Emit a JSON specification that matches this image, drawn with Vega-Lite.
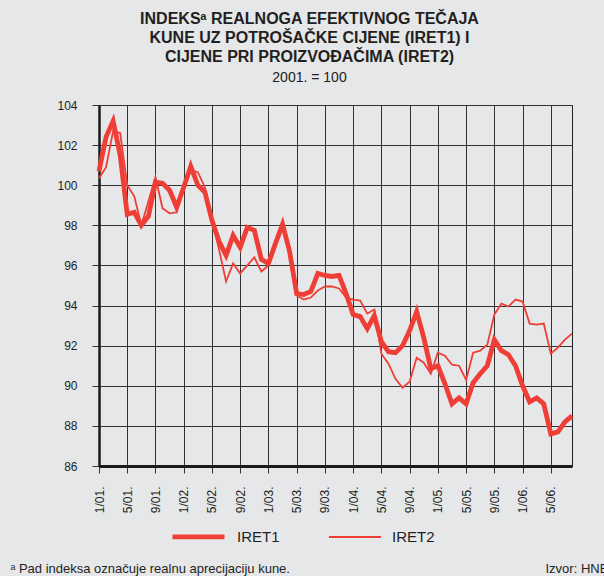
{
  "$schema": "https://vega.github.io/schema/vega-lite/v6.json",
  "autosize": {"type": "none"},
  "padding": {"left": 99, "top": 105, "right": 32, "bottom": 110},
  "width": 473,
  "height": 361,
  "background": "#e6e7e9",
  "title": {
    "text": ["INDEKSᵃ  REALNOGA EFEKTIVNOG TEČAJA", "KUNE UZ POTROŠAČKE CIJENE (IRET1) I", "CIJENE PRI PROIZVOĐAČIMA (IRET2)"],
    "subtitle": "2001. = 100",
    "anchor": "middle",
    "frame": "group",
    "dx": -26,
    "offset": 14,
    "font": "Liberation Sans",
    "fontSize": 16,
    "fontWeight": "bold",
    "lineHeight": 19,
    "color": "#231f20",
    "subtitleFont": "Liberation Sans",
    "subtitleFontSize": 14,
    "subtitleColor": "#231f20",
    "subtitlePadding": 6
  },
  "config": {
    "view": {"stroke": "#222222", "strokeWidth": 1},
    "axis": {
      "labelFont": "Liberation Sans",
      "labelColor": "#231f20",
      "labelFontSize": 12,
      "gridColor": "#333333",
      "gridOpacity": 1,
      "gridWidth": 1,
      "tickColor": "#333333",
      "tickSize": 7,
      "domainColor": "#1a1a1a"
    }
  },
  "data": {
    "values": [
      {"month": "1/01", "IRET1": 100.7, "IRET2": 100.35},
      {"month": "2/01", "IRET1": 102.4, "IRET2": 100.9},
      {"month": "3/01", "IRET1": 103.2, "IRET2": 102.7},
      {"month": "4/01", "IRET1": 101.5, "IRET2": 102.6},
      {"month": "5/01", "IRET1": 98.55, "IRET2": 100.0},
      {"month": "6/01", "IRET1": 98.65, "IRET2": 99.45},
      {"month": "7/01", "IRET1": 98.0, "IRET2": 98.0},
      {"month": "8/01", "IRET1": 98.45, "IRET2": 99.2},
      {"month": "9/01", "IRET1": 100.15, "IRET2": 100.4},
      {"month": "10/01", "IRET1": 100.1, "IRET2": 98.85},
      {"month": "11/01", "IRET1": 99.75, "IRET2": 98.6},
      {"month": "12/01", "IRET1": 98.9, "IRET2": 98.65},
      {"month": "1/02", "IRET1": 99.9, "IRET2": 99.9},
      {"month": "2/02", "IRET1": 100.95, "IRET2": 100.75},
      {"month": "3/02", "IRET1": 100.0, "IRET2": 100.65},
      {"month": "4/02", "IRET1": 99.65, "IRET2": 99.9},
      {"month": "5/02", "IRET1": 98.25, "IRET2": 98.3},
      {"month": "6/02", "IRET1": 97.2, "IRET2": 96.8},
      {"month": "7/02", "IRET1": 96.5, "IRET2": 95.2},
      {"month": "8/02", "IRET1": 97.5, "IRET2": 96.1},
      {"month": "9/02", "IRET1": 96.9, "IRET2": 95.6},
      {"month": "10/02", "IRET1": 97.9, "IRET2": 96.0},
      {"month": "11/02", "IRET1": 97.75, "IRET2": 96.4},
      {"month": "12/02", "IRET1": 96.3, "IRET2": 95.7},
      {"month": "1/03", "IRET1": 96.1, "IRET2": 96.0},
      {"month": "2/03", "IRET1": 97.1, "IRET2": 97.0},
      {"month": "3/03", "IRET1": 98.05, "IRET2": 98.0},
      {"month": "4/03", "IRET1": 96.7, "IRET2": 96.8},
      {"month": "5/03", "IRET1": 94.6, "IRET2": 94.5},
      {"month": "6/03", "IRET1": 94.55, "IRET2": 94.3},
      {"month": "7/03", "IRET1": 94.7, "IRET2": 94.4},
      {"month": "8/03", "IRET1": 95.6, "IRET2": 94.75},
      {"month": "9/03", "IRET1": 95.5, "IRET2": 94.95},
      {"month": "10/03", "IRET1": 95.45, "IRET2": 94.95},
      {"month": "11/03", "IRET1": 95.5, "IRET2": 94.85},
      {"month": "12/03", "IRET1": 94.6, "IRET2": 94.4},
      {"month": "1/04", "IRET1": 93.55, "IRET2": 94.3},
      {"month": "2/04", "IRET1": 93.45, "IRET2": 94.25},
      {"month": "3/04", "IRET1": 92.85, "IRET2": 93.6},
      {"month": "4/04", "IRET1": 93.5, "IRET2": 93.8},
      {"month": "5/04", "IRET1": 92.2, "IRET2": 91.6},
      {"month": "6/04", "IRET1": 91.7, "IRET2": 91.1},
      {"month": "7/04", "IRET1": 91.65, "IRET2": 90.35},
      {"month": "8/04", "IRET1": 92.0, "IRET2": 89.9},
      {"month": "9/04", "IRET1": 92.75, "IRET2": 90.2},
      {"month": "10/04", "IRET1": 93.7, "IRET2": 91.4},
      {"month": "11/04", "IRET1": 92.4, "IRET2": 91.15},
      {"month": "12/04", "IRET1": 90.85, "IRET2": 90.6},
      {"month": "1/05", "IRET1": 91.0, "IRET2": 91.65},
      {"month": "2/05", "IRET1": 90.1, "IRET2": 91.5},
      {"month": "3/05", "IRET1": 89.1, "IRET2": 91.05},
      {"month": "4/05", "IRET1": 89.4, "IRET2": 91.0},
      {"month": "5/05", "IRET1": 89.1, "IRET2": 90.3},
      {"month": "6/05", "IRET1": 90.15, "IRET2": 91.65},
      {"month": "7/05", "IRET1": 90.6, "IRET2": 91.75},
      {"month": "8/05", "IRET1": 91.0, "IRET2": 92.05},
      {"month": "9/05", "IRET1": 92.3, "IRET2": 93.55},
      {"month": "10/05", "IRET1": 91.75, "IRET2": 94.1},
      {"month": "11/05", "IRET1": 91.55, "IRET2": 93.95},
      {"month": "12/05", "IRET1": 91.0, "IRET2": 94.3},
      {"month": "1/06", "IRET1": 90.0, "IRET2": 94.2},
      {"month": "2/06", "IRET1": 89.2, "IRET2": 93.1},
      {"month": "3/06", "IRET1": 89.4, "IRET2": 93.05},
      {"month": "4/06", "IRET1": 89.1, "IRET2": 93.1},
      {"month": "5/06", "IRET1": 87.6, "IRET2": 91.6},
      {"month": "6/06", "IRET1": 87.7, "IRET2": 91.9},
      {"month": "7/06", "IRET1": 88.2, "IRET2": 92.3},
      {"month": "8/06", "IRET1": 88.5, "IRET2": 92.6}
    ]
  },
  "transform": [{"fold": ["IRET1", "IRET2"], "as": ["series", "value"]}],
  "mark": {"type": "line", "color": "#ef3e36", "strokeJoin": "miter", "strokeCap": "butt"},
  "encoding": {
    "x": {
      "field": "month",
      "type": "ordinal",
      "sort": null,
      "scale": {"type": "point", "padding": 0},
      "axis": {
        "values": ["1/01", "5/01", "9/01", "1/02", "5/02", "9/02", "1/03", "5/03", "9/03", "1/04", "5/04", "9/04", "1/05", "5/05", "9/05", "1/06", "5/06"],
        "labelExpr": "datum.label + '.'",
        "labelAngle": -90,
        "labelPadding": 13,
        "domainWidth": 3,
        "grid": true,
        "title": "ᵃ Pad indeksa označuje realnu aprecijaciju kune.",
        "titleFont": "Liberation Sans",
        "titleFontSize": 13,
        "titleFontWeight": "normal",
        "titleColor": "#231f20",
        "titleAngle": 0,
        "titleAlign": "left",
        "titleBaseline": "alphabetic",
        "titleX": -89,
        "titleY": 106
      }
    },
    "y": {
      "field": "value",
      "type": "quantitative",
      "scale": {"domain": [86, 104], "nice": false, "zero": false},
      "axis": {
        "values": [86, 88, 90, 92, 94, 96, 98, 100, 102, 104],
        "labelPadding": 15,
        "domainWidth": 2.5,
        "grid": true,
        "title": "Izvor: HNB",
        "titleFont": "Liberation Sans",
        "titleFontSize": 13,
        "titleFontWeight": "normal",
        "titleColor": "#231f20",
        "titleAngle": 0,
        "titleAlign": "left",
        "titleBaseline": "alphabetic",
        "titleX": 446,
        "titleY": 467
      }
    },
    "strokeWidth": {
      "field": "series",
      "type": "ordinal",
      "scale": {"domain": ["IRET1", "IRET2"], "range": [4.8, 1.8]},
      "legend": {
        "orient": "none",
        "legendX": 71,
        "legendY": 403,
        "direction": "horizontal",
        "title": null,
        "padding": 0,
        "symbolType": "stroke",
        "symbolSize": 2704,
        "symbolStrokeColor": "#ef3e36",
        "labelFont": "Liberation Sans",
        "labelFontSize": 15,
        "labelColor": "#231f20",
        "labelOffset": 10,
        "columnPadding": 45
      }
    }
  }
}
